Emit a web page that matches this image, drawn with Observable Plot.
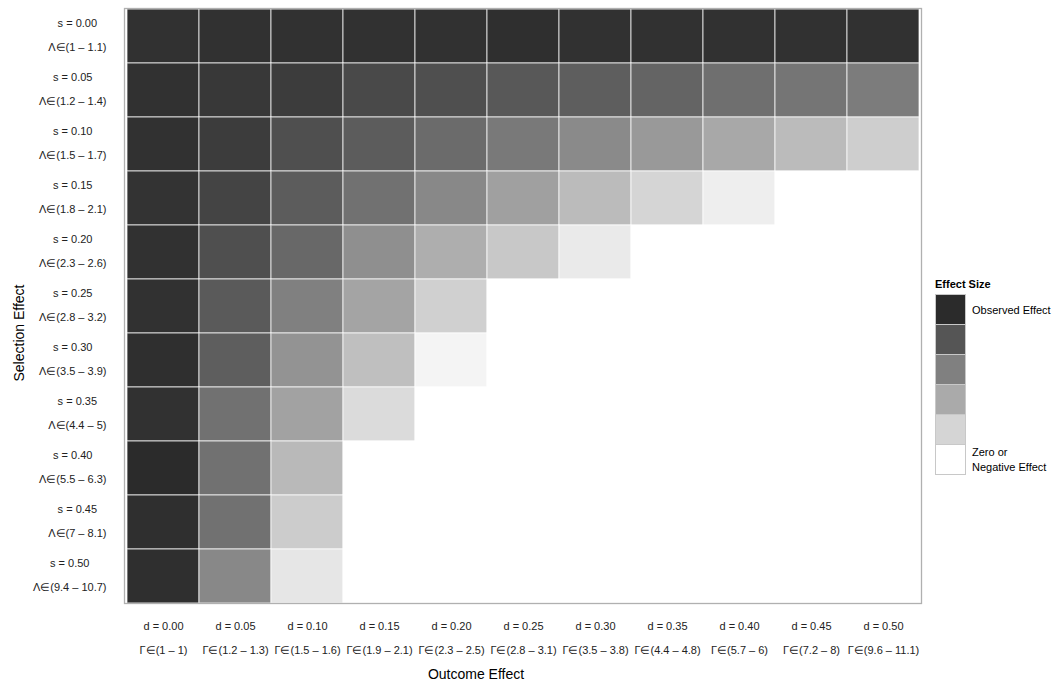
<!DOCTYPE html>
<html><head><meta charset="utf-8">
<script src="https://cdn.jsdelivr.net/npm/d3@7"></script>
<script src="https://cdn.jsdelivr.net/npm/@observablehq/plot@0.6"></script>
<style>
body{margin:0;background:#fff;font-family:"Liberation Sans",Arial,sans-serif;}
#wrap{position:relative;width:1055px;height:684px;}
#legend{position:absolute;left:935px;top:277px;font-size:11px;color:#000;}
#legend .ttl{font-weight:bold;height:18px;line-height:14px;}
#legend .row{display:flex;align-items:center;height:30px;}
#legend .box{width:29px;height:29px;border:1px solid #c8c8c8;box-sizing:content-box;margin-top:-1px;}
#legend .lab{margin-left:6px;line-height:15px;white-space:pre;}
</style></head><body><div id="wrap"></div>
<script>
const sLevels = ["0.00","0.05","0.10","0.15","0.20","0.25","0.30","0.35","0.40","0.45","0.50"];
const lambdaRanges = ["1 – 1.1","1.2 – 1.4","1.5 – 1.7","1.8 – 2.1","2.3 – 2.6","2.8 – 3.2","3.5 – 3.9","4.4 – 5","5.5 – 6.3","7 – 8.1","9.4 – 10.7"];
const dLevels = ["0.00","0.05","0.10","0.15","0.20","0.25","0.30","0.35","0.40","0.45","0.50"];
const gammaRanges = ["1 – 1","1.2 – 1.3","1.5 – 1.6","1.9 – 2.1","2.3 – 2.5","2.8 – 3.1","3.5 – 3.8","4.4 – 4.8","5.7 – 6","7.2 – 8","9.6 – 11.1"];
// remaining share of the observed effect (0 or below = zero / negative effect)
const effectRows = [
  [0.97,0.97,0.97,0.97,0.97,0.98,0.97,0.97,0.97,0.97,0.97],
  [0.97,0.94,0.92,0.86,0.83,0.79,0.76,0.73,0.68,0.65,0.62],
  [0.97,0.92,0.83,0.77,0.70,0.63,0.55,0.48,0.41,0.32,0.23],
  [0.96,0.88,0.77,0.67,0.56,0.45,0.32,0.20,0.08,-0.05,-0.15],
  [0.97,0.83,0.71,0.53,0.38,0.26,0.10,-0.05,-0.15,-0.25,-0.35],
  [0.97,0.78,0.60,0.43,0.22,-0.02,-0.15,-0.3,-0.4,-0.5,-0.6],
  [0.98,0.76,0.51,0.30,0.05,-0.15,-0.3,-0.45,-0.6,-0.7,-0.8],
  [0.97,0.67,0.44,0.17,-0.08,-0.3,-0.5,-0.65,-0.8,-0.9,-1],
  [1.00,0.67,0.33,-0.02,-0.3,-0.5,-0.7,-0.85,-1,-1,-1],
  [0.98,0.67,0.24,-0.12,-0.4,-0.6,-0.8,-1,-1,-1,-1],
  [0.98,0.56,0.12,-0.25,-0.5,-0.75,-1,-1,-1,-1,-1]
];
const legendValues = [1, 0.8, 0.6, 0.4, 0.2, 0];
const legendLabels = ["Observed Effect","","","","","Zero or\nNegative Effect"];

const cells = [];
sLevels.forEach((s, i) => dLevels.forEach((d, j) => cells.push({s, d, v: effectRows[i][j]})));

const FONT = 11;
const ctx = document.createElement("canvas").getContext("2d");
ctx.font = `${FONT}px "Liberation Sans", Arial, sans-serif`;
const yLabelMarks = sLevels.map((s, i) => {
  const l1 = `s = ${s}`, l2 = `Λ∈(${lambdaRanges[i]})`;
  const w = Math.max(ctx.measureText(l1).width, ctx.measureText(l2).width);
  return Plot.text([s], {y: d => d, frameAnchor: "left", textAnchor: "middle", lineAnchor: "middle",
    dx: -18 - w / 2, dy: -5, text: () => `${l1}\n${l2}`, lineHeight: 24 / FONT, fontSize: FONT, fill: "#222"});
});

const chart = Plot.plot({
  width: 1055, height: 684,
  marginLeft: 124, marginRight: 134, marginTop: 8, marginBottom: 81,
  style: {fontFamily: '"Liberation Sans", Arial, sans-serif', background: "#fff"},
  x: {type: "band", domain: dLevels, padding: 0, axis: null},
  y: {type: "band", domain: sLevels, padding: 0, axis: null},
  color: {type: "linear", domain: [0, 1], range: ["#ffffff", "#2b2b2b"], interpolate: "rgb", clamp: true},
  marks: [
    Plot.cell(cells, {x: "d", y: "s", fill: "v", stroke: "white", strokeOpacity: 0.75, strokeWidth: 1}),
    Plot.frame({stroke: "#b0b0b0", strokeWidth: 1.3}),
    ...yLabelMarks,
    Plot.text(dLevels, {x: d => d, frameAnchor: "bottom", lineAnchor: "top", dy: 9,
      text: (d, i) => `d = ${d}\nΓ∈(${gammaRanges[i]})`, lineHeight: 24 / FONT, fontSize: FONT, fill: "#222"}),
    Plot.text(["Outcome Effect"], {frameAnchor: "bottom", dx: -47, dy: 75, fontSize: 14, fill: "#000"}),
    Plot.text(["Selection Effect"], {frameAnchor: "left", textAnchor: "middle", rotate: -90, dx: -105, dy: 27, fontSize: 14, fill: "#000"})
  ]
});
const wrap = document.getElementById("wrap");
wrap.appendChild(chart);

const color = chart.scale("color");
const colorFn = d3.scaleLinear().domain(color.domain).range(color.range).interpolate(d3.interpolateRgb).clamp(true);
const leg = document.createElement("div");
leg.id = "legend";
leg.innerHTML = `<div class="ttl">Effect Size</div>` + legendValues.map((v, i) =>
  `<div class="row"><div class="box" style="background:${colorFn(v)}"></div><div class="lab">${legendLabels[i]}</div></div>`).join("");
wrap.appendChild(leg);
</script></body></html>
